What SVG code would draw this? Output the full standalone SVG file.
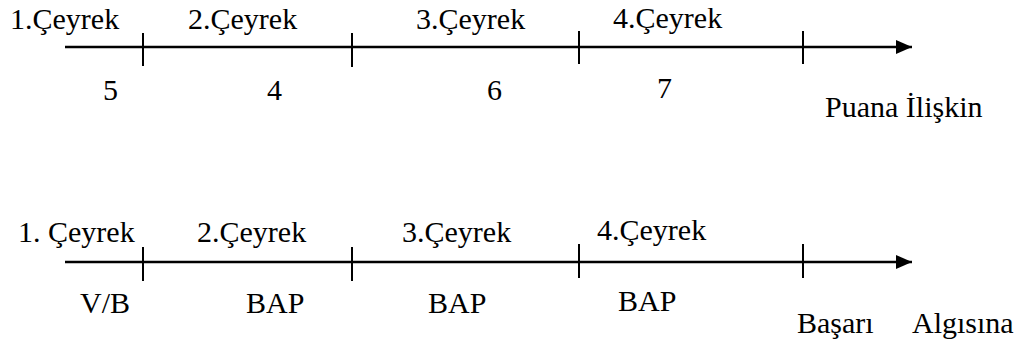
<svg xmlns="http://www.w3.org/2000/svg" width="1018" height="347" viewBox="0 0 1018 347">
<style>
.axis{stroke:#000;stroke-width:2.6;fill:none}
.tick{stroke:#000;stroke-width:2;fill:none}
.lbl{font-family:"Liberation Serif","Times New Roman",serif;font-size:30px;fill:#000}
</style>
<defs>
<marker id="ah" markerWidth="16" markerHeight="14" refX="16" refY="7" orient="auto" markerUnits="userSpaceOnUse">
<path d="M0,0 L16,7 L0,14 Z" fill="#000"/>
</marker>
</defs>
<rect width="1018" height="347" fill="#fff"/>
<g id="connectors">
<line class="axis" x1="65" y1="47" x2="912" y2="47" marker-end="url(#ah)"/>
<line class="tick" x1="143" y1="33" x2="143" y2="66"/>
<line class="tick" x1="352" y1="33" x2="352" y2="67"/>
<line class="tick" x1="579" y1="31" x2="579" y2="64"/>
<line class="tick" x1="803" y1="31" x2="803" y2="64"/>
<line class="axis" x1="65" y1="262" x2="912" y2="262" marker-end="url(#ah)"/>
<line class="tick" x1="143" y1="247" x2="143" y2="281"/>
<line class="tick" x1="352" y1="247" x2="352" y2="281"/>
<line class="tick" x1="579" y1="244" x2="579" y2="278"/>
<line class="tick" x1="803" y1="244" x2="803" y2="278"/>
</g>
<g id="top-labels" class="lbl">
<text class="lbl" x="10" y="29">1.Çeyrek</text>
<text class="lbl" x="188" y="29">2.Çeyrek</text>
<text class="lbl" x="416" y="29">3.Çeyrek</text>
<text class="lbl" x="613" y="28">4.Çeyrek</text>
<text class="lbl" x="103" y="100">5</text>
<text class="lbl" x="267" y="100">4</text>
<text class="lbl" x="487" y="100">6</text>
<text class="lbl" x="657" y="98">7</text>
<text class="lbl" x="825" y="117">Puana İlişkin</text>
</g>
<g id="bottom-labels" class="lbl">
<text class="lbl" x="18" y="242">1. Çeyrek</text>
<text class="lbl" x="197" y="242">2.Çeyrek</text>
<text class="lbl" x="402" y="242">3.Çeyrek</text>
<text class="lbl" x="597" y="240">4.Çeyrek</text>
<text class="lbl" x="80" y="313">V/B</text>
<text class="lbl" x="246" y="313">BAP</text>
<text class="lbl" x="428" y="313">BAP</text>
<text class="lbl" x="618" y="311">BAP</text>
<text class="lbl" x="797" y="333">Başarı</text>
<text class="lbl" x="912" y="333">Algısına</text>
</g>
</svg>
